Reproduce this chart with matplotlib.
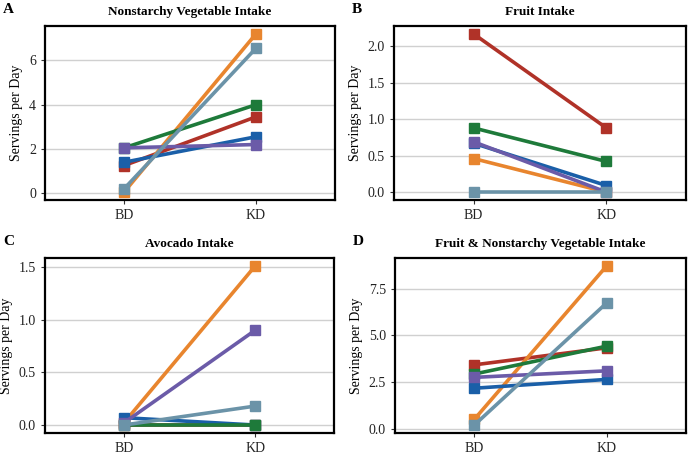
import matplotlib
matplotlib.use("Agg")
import matplotlib.pyplot as plt

plt.rcParams['font.family'] = ['Liberation Serif', 'DejaVu Serif']

# participants (drawing order) and their colours
participants = ["P1", "P2", "P3", "P4", "P5", "P6"]
colors = ["#b03228", "#e8852e", "#1a5fa8", "#1e7a3a", "#6b5ba8", "#6b93a8"]
phases = ["BD", "KD"]

# servings per day, BD then KD, in participant order above
veg_bd = [1.25, 0.05, 1.40, 2.05, 2.05, 0.20]
veg_kd = [3.45, 7.20, 2.55, 4.00, 2.20, 6.55]

fruit_bd = [2.17, 0.46, 0.67, 0.88, 0.69, 0.00]
fruit_kd = [0.88, 0.00, 0.09, 0.42, 0.00, 0.00]

avo_bd = [0.00, 0.02, 0.07, 0.00, 0.02, 0.00]
avo_kd = [0.00, 1.51, 0.00, 0.00, 0.90, 0.18]

total_bd = [3.42, 0.51, 2.17, 2.93, 2.75, 0.20]
total_kd = [4.33, 8.71, 2.64, 4.42, 3.10, 6.73]

panels = [
    ("A", "Nonstarchy Vegetable Intake", veg_bd, veg_kd, [0, 2, 4, 6], "{:.0f}"),
    ("B", "Fruit Intake", fruit_bd, fruit_kd, [0, 0.5, 1.0, 1.5, 2.0], "{:.1f}"),
    ("C", "Avocado Intake", avo_bd, avo_kd, [0, 0.5, 1.0, 1.5], "{:.1f}"),
    ("D", "Fruit & Nonstarchy Vegetable Intake", total_bd, total_kd, [0, 2.5, 5.0, 7.5], "{:.1f}"),
]

# axes boxes in pixels: left, top, right, bottom
boxes = [(45, 26, 335, 200), (394, 26, 686, 200), (45, 258, 334, 433), (395, 258, 686, 433)]

W, H = 690, 455
fig = plt.figure(figsize=(W / 100, H / 100), dpi=100)

for (letter, title, bd, kd, ticks, fmt), (l, t, r, b) in zip(panels, boxes):
    ax = fig.add_axes([l / W, 1 - b / H, (r - l) / W, (b - t) / H])
    for i in range(len(participants)):
        ax.plot([1, 2], [bd[i], kd[i]], color=colors[i], lw=2.6,
                marker="s", ms=7, solid_capstyle="butt", zorder=3 + i)
    lo = min(bd + kd)
    hi = max(bd + kd)
    pad = (hi - lo) * 0.05
    ax.set_ylim(lo - pad, hi + pad)
    ax.set_xlim(0.4, 2.6)
    ax.set_xticks([1, 2])
    ax.set_xticklabels(phases)
    ax.set_yticks(ticks)
    ax.set_yticklabels([fmt.format(v) for v in ticks])
    ax.yaxis.grid(True, color="#d0d0d0", lw=1.0)
    ax.set_axisbelow(True)
    for s in ax.spines.values():
        s.set_linewidth(1.6)
        s.set_color("black")
    ax.tick_params(labelsize=10, length=3, width=0.8, colors="#333333", labelcolor="#222222")
    ax.set_ylabel("Servings per Day", fontsize=10, labelpad=4)
    ax.set_title(title, fontsize=9.5, fontweight="bold", pad=8)
    fig.text((l - 42) / W, 1 - (t - 23) / H, letter, fontsize=11, fontweight="bold", va="top", ha="left")

fig.savefig("out.png", dpi=100)
